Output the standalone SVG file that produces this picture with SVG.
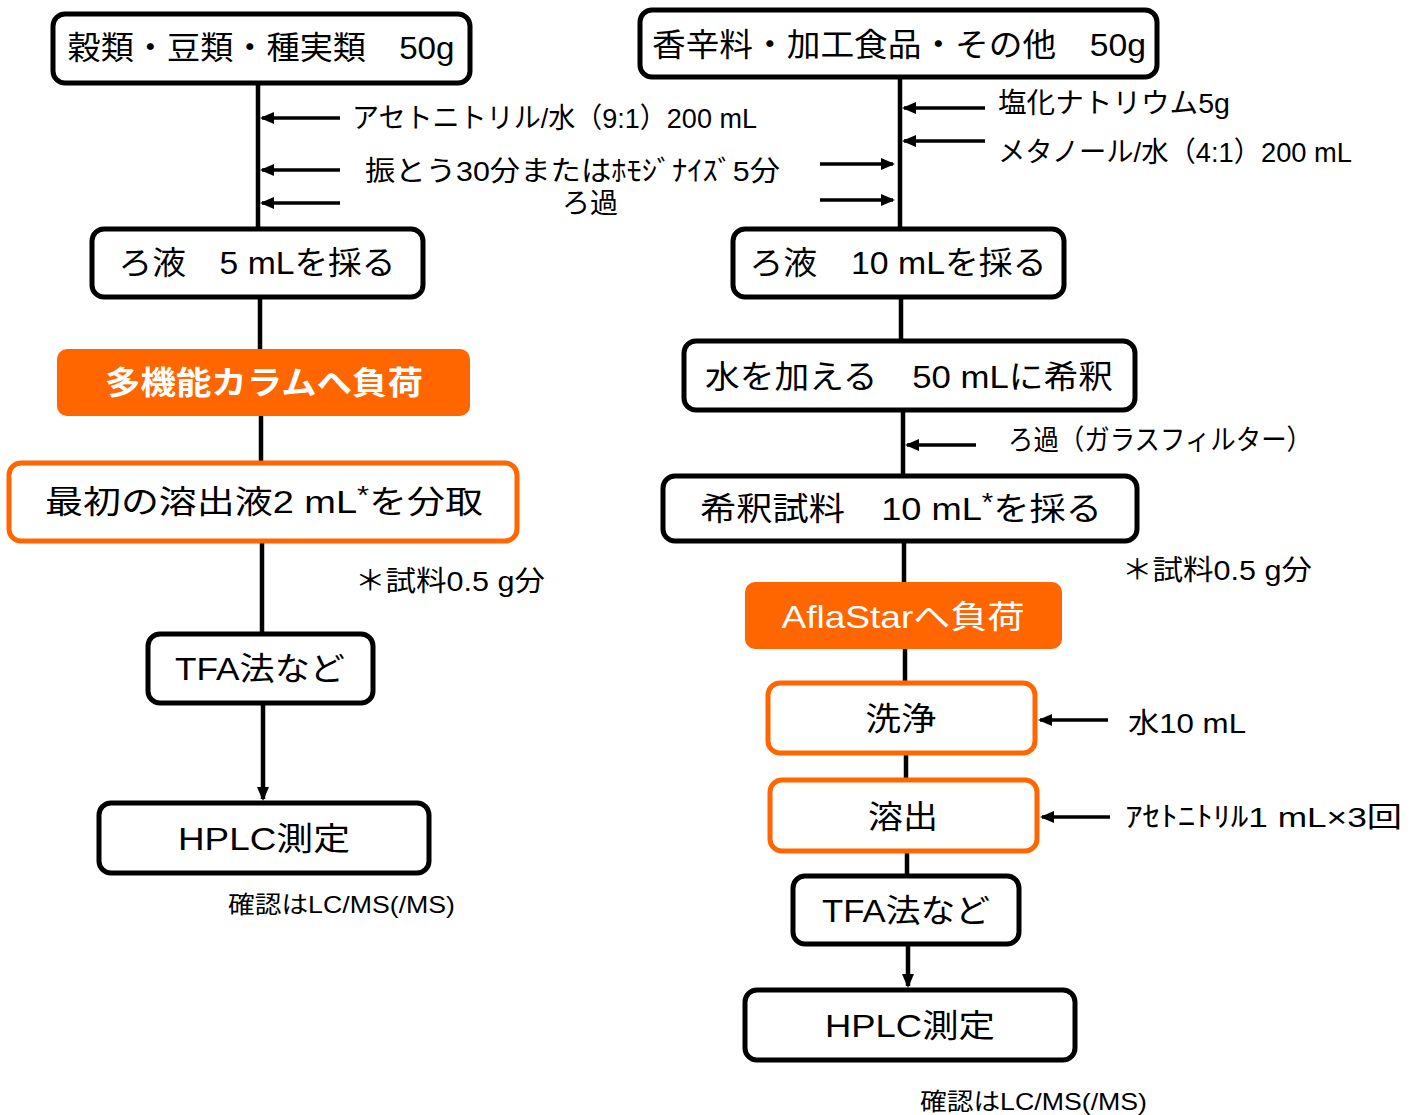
<svg xmlns="http://www.w3.org/2000/svg" width="1420" height="1115" viewBox="0 0 1420 1115">
<defs>
<style>
text{font-family:"Liberation Sans","Noto Sans CJK JP",sans-serif;fill:#000}
.box{fill:#fff;stroke:#000;stroke-width:5}
.obox{fill:#fff;stroke:#FF6600;stroke-width:5}
.ofill{fill:#FF6600;stroke:none}
.t32{font-size:32px}
.t28{font-size:28px}
.t24{font-size:24px}
.mid{text-anchor:middle}
.w{fill:#fff}
.line{stroke:#000;stroke-width:4.5;fill:none}
.arr{stroke:#000;stroke-width:3.5;fill:none;marker-end:url(#ah)}
.varr{stroke:#000;stroke-width:4.5;fill:none;marker-end:url(#ah)}
</style>
<marker id="ah" viewBox="0 0 14 12" refX="12" refY="6" markerWidth="14" markerHeight="12" markerUnits="userSpaceOnUse" orient="auto">
<path d="M0,0 L14,6 L0,12 z" fill="#000"/>
</marker>
</defs>

<g id="connectors">
<line class="line" x1="258" y1="83" x2="258" y2="229"/>
<line class="arr" x1="340" y1="118" x2="262" y2="118"/>
<line class="arr" x1="340" y1="170" x2="262" y2="170"/>
<line class="arr" x1="340" y1="203" x2="262" y2="203"/>
<line class="line" x1="260" y1="297" x2="260" y2="349"/>
<line class="line" x1="261" y1="416" x2="261" y2="463"/>
<line class="line" x1="262" y1="541" x2="262" y2="634"/>
<line class="varr" x1="263" y1="703" x2="263" y2="799"/>

<line class="line" x1="900" y1="77" x2="900" y2="229"/>
<line class="arr" x1="985" y1="108" x2="904" y2="108"/>
<line class="arr" x1="985" y1="141" x2="904" y2="141"/>
<line class="arr" x1="820" y1="164" x2="893" y2="164"/>
<line class="arr" x1="820" y1="200" x2="893" y2="200"/>
<line class="line" x1="901" y1="297" x2="901" y2="341"/>
<line class="line" x1="903" y1="410" x2="903" y2="476"/>
<line class="arr" x1="976" y1="445" x2="907" y2="445"/>
<line class="line" x1="904" y1="541" x2="904" y2="582"/>
<line class="line" x1="905" y1="649" x2="905" y2="683"/>
<line class="arr" x1="1108" y1="720" x2="1040" y2="720"/>
<line class="line" x1="906" y1="753" x2="906" y2="780"/>
<line class="arr" x1="1110" y1="817" x2="1042" y2="817"/>
<line class="line" x1="907" y1="851" x2="907" y2="876"/>
<line class="varr" x1="908" y1="944" x2="908" y2="986"/>
</g>

<g id="n-left-start">
<rect class="box" x="53" y="14" width="417" height="69" rx="12"/>
<text class="t32 mid" x="261" y="59" textLength="387" lengthAdjust="spacingAndGlyphs">穀類・豆類・種実類　50g</text>
</g>
<g id="n-left-labels">
<text class="t28" x="352" y="128" textLength="405" lengthAdjust="spacingAndGlyphs">アセトニトリル/水（9:1）200 mL</text>
<text class="t28" x="365" y="181" textLength="415" lengthAdjust="spacingAndGlyphs">振とう30分またはﾎﾓｼﾞﾅｲｽﾞ5分</text>
<text class="t28 mid" x="590" y="213" textLength="56" lengthAdjust="spacingAndGlyphs">ろ過</text>
</g>
<g id="n-left-filtrate">
<rect class="box" x="92" y="229" width="331" height="68" rx="12"/>
<text class="t32 mid" x="257" y="274" textLength="277" lengthAdjust="spacingAndGlyphs">ろ液　5 mLを採る</text>
</g>
<g id="n-left-column">
<rect class="ofill" x="57" y="349" width="413" height="67" rx="10"/>
<text class="t32 mid w" x="264" y="394" font-weight="bold" textLength="318" lengthAdjust="spacingAndGlyphs">多機能カラムへ負荷</text>
</g>
<g id="n-left-eluate">
<rect class="obox" x="9" y="463" width="508" height="78" rx="12"/>
<text class="t32 mid" x="264" y="513" textLength="438" lengthAdjust="spacingAndGlyphs">最初の溶出液2 mL<tspan dy="-9" font-size="26">*</tspan><tspan dy="9">を分取</tspan></text>
</g>
<g id="n-left-note">
<text class="t28" x="355" y="591" textLength="190" lengthAdjust="spacingAndGlyphs">＊試料0.5 g分</text>
</g>
<g id="n-left-tfa">
<rect class="box" x="148" y="634" width="225" height="69" rx="12"/>
<text class="t32 mid" x="260" y="680" textLength="170" lengthAdjust="spacingAndGlyphs">TFA法など</text>
</g>
<g id="n-left-hplc">
<rect class="box" x="99" y="803" width="330" height="70" rx="12"/>
<text class="t32 mid" x="264" y="850" textLength="172" lengthAdjust="spacingAndGlyphs">HPLC測定</text>
</g>
<g id="n-left-confirm">
<text class="t24" x="228" y="913" textLength="227" lengthAdjust="spacingAndGlyphs">確認はLC/MS(/MS)</text>
</g>

<g id="n-right-start">
<rect class="box" x="640" y="10" width="517" height="67" rx="12"/>
<text class="t32 mid" x="899" y="56" textLength="494" lengthAdjust="spacingAndGlyphs">香辛料・加工食品・その他　50g</text>
</g>
<g id="n-right-labels">
<text class="t28" x="998" y="113" textLength="232" lengthAdjust="spacingAndGlyphs">塩化ナトリウム5g</text>
<text class="t28" x="998" y="162" textLength="354" lengthAdjust="spacingAndGlyphs">メタノール/水（4:1）200 mL</text>
</g>
<g id="n-right-filtrate">
<rect class="box" x="733" y="229" width="331" height="68" rx="12"/>
<text class="t32 mid" x="898" y="274" textLength="297" lengthAdjust="spacingAndGlyphs">ろ液　10 mLを採る</text>
</g>
<g id="n-right-dilute">
<rect class="box" x="684" y="341" width="451" height="69" rx="12"/>
<text class="t32 mid" x="909" y="388" textLength="408" lengthAdjust="spacingAndGlyphs">水を加える　50 mLに希釈</text>
</g>
<g id="n-right-filter">
<text class="t28" x="1008" y="450" textLength="304" lengthAdjust="spacingAndGlyphs">ろ過（ガラスフィルター）</text>
</g>
<g id="n-right-sample">
<rect class="box" x="663" y="476" width="474" height="65" rx="12"/>
<text class="t32 mid" x="901" y="520" textLength="402" lengthAdjust="spacingAndGlyphs">希釈試料　10 mL<tspan dy="-9" font-size="26">*</tspan><tspan dy="9">を採る</tspan></text>
</g>
<g id="n-right-note">
<text class="t28" x="1122" y="580" textLength="190" lengthAdjust="spacingAndGlyphs">＊試料0.5 g分</text>
</g>
<g id="n-right-aflastar">
<rect class="ofill" x="745" y="582" width="317" height="67" rx="10"/>
<text class="t32 mid w" x="903" y="628" textLength="243" lengthAdjust="spacingAndGlyphs">AflaStarへ負荷</text>
</g>
<g id="n-right-wash">
<rect class="obox" x="768" y="683" width="267" height="70" rx="12"/>
<text class="t32 mid" x="901" y="730" textLength="71" lengthAdjust="spacingAndGlyphs">洗浄</text>
<text class="t28" x="1128" y="733" textLength="118" lengthAdjust="spacingAndGlyphs">水10 mL</text>
</g>
<g id="n-right-elute">
<rect class="obox" x="770" y="780" width="267" height="71" rx="12"/>
<text class="t32 mid" x="903" y="828" textLength="70" lengthAdjust="spacingAndGlyphs">溶出</text>
<text class="t28" x="1125" y="827" textLength="277" lengthAdjust="spacingAndGlyphs">ｱｾﾄﾆﾄﾘﾙ1 mL×3回</text>
</g>
<g id="n-right-tfa">
<rect class="box" x="793" y="876" width="226" height="68" rx="12"/>
<text class="t32 mid" x="906" y="922" textLength="168" lengthAdjust="spacingAndGlyphs">TFA法など</text>
</g>
<g id="n-right-hplc">
<rect class="box" x="745" y="990" width="330" height="70" rx="12"/>
<text class="t32 mid" x="910" y="1037" textLength="170" lengthAdjust="spacingAndGlyphs">HPLC測定</text>
</g>
<g id="n-right-confirm">
<text class="t24" x="920" y="1110" textLength="227" lengthAdjust="spacingAndGlyphs">確認はLC/MS(/MS)</text>
</g>
</svg>
